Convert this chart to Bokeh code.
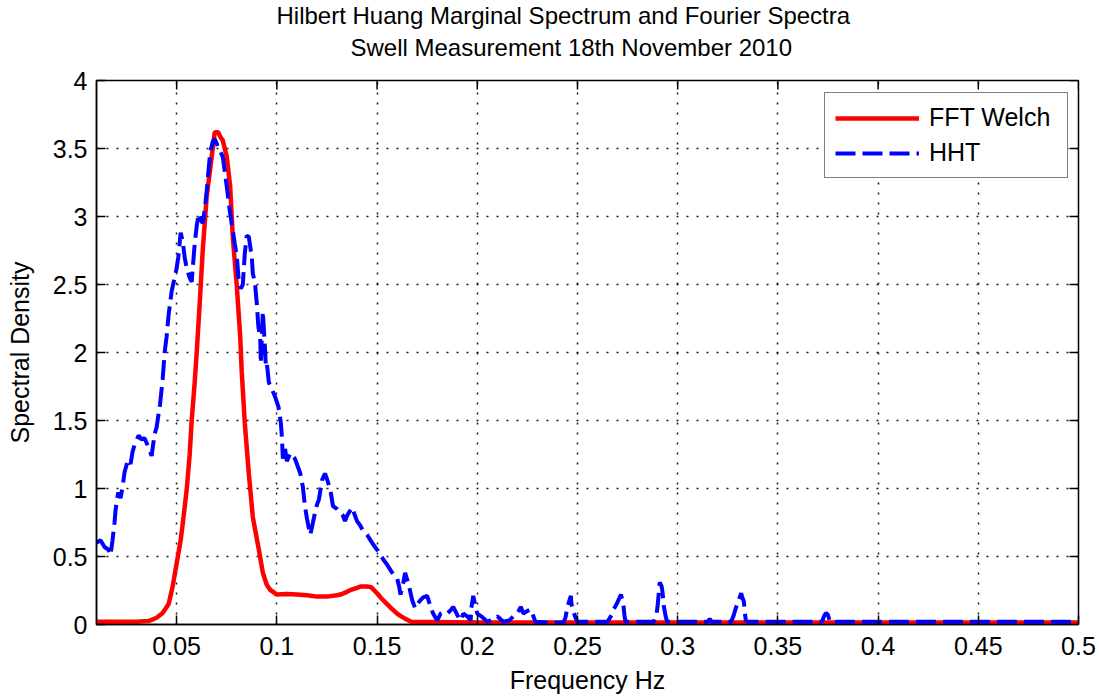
import math
from bokeh.plotting import figure
from bokeh.models import Range1d, FixedTicker, Legend, LegendItem, Title
from bokeh.embed import file_html
from bokeh.resources import INLINE

# ---- data ----
fft_freq = [0.010, 0.020, 0.030, 0.036, 0.040, 0.043, 0.046, 0.048, 0.050, 0.052,
            0.0535, 0.055, 0.0565, 0.0575, 0.059, 0.060, 0.0617, 0.063, 0.065, 0.0675,
            0.069, 0.0707, 0.072, 0.073, 0.075, 0.0767, 0.078, 0.080, 0.0817, 0.0825,
            0.084, 0.086, 0.088, 0.091, 0.093, 0.095, 0.0967, 0.100, 0.105, 0.110,
            0.115, 0.120, 0.125, 0.130, 0.1317, 0.135, 0.137, 0.140, 0.142, 0.145,
            0.147, 0.150, 0.152, 0.155, 0.157, 0.160, 0.162, 0.165, 0.167, 0.200,
            0.300, 0.400, 0.500]
fft_welch = [0.02, 0.02, 0.02, 0.025, 0.05, 0.085, 0.15, 0.28, 0.45, 0.62,
             0.80, 0.99, 1.25, 1.50, 1.78, 2.00, 2.41, 2.75, 3.15, 3.44,
             3.62, 3.62, 3.58, 3.56, 3.44, 3.22, 2.85, 2.49, 2.12, 1.85,
             1.48, 1.11, 0.79, 0.55, 0.38, 0.29, 0.255, 0.22, 0.225, 0.22,
             0.215, 0.205, 0.205, 0.215, 0.22, 0.24, 0.255, 0.27, 0.28, 0.28,
             0.275, 0.23, 0.195, 0.15, 0.12, 0.08, 0.06, 0.035, 0.02, 0.015,
             0.015, 0.015, 0.015]

hht_freq = [0.010, 0.012, 0.014, 0.016, 0.017, 0.018, 0.019, 0.0195, 0.0208, 0.022,
            0.023, 0.024, 0.0257, 0.027, 0.028, 0.029, 0.031, 0.0325, 0.034, 0.036,
            0.0375, 0.039, 0.040, 0.041, 0.0417, 0.043, 0.044, 0.045, 0.046, 0.0475,
            0.049, 0.050, 0.0508, 0.052, 0.053, 0.054, 0.055, 0.0565, 0.0575, 0.059,
            0.060, 0.061, 0.062, 0.063, 0.064, 0.065, 0.0667, 0.068, 0.069, 0.071,
            0.073, 0.075, 0.0767, 0.078, 0.079, 0.080, 0.081, 0.082, 0.083, 0.084,
            0.085, 0.086, 0.087, 0.0875, 0.088, 0.089, 0.090, 0.0907, 0.0917, 0.092,
            0.093, 0.094, 0.0945, 0.095, 0.096, 0.0975, 0.099, 0.1008, 0.102, 0.1025,
            0.103, 0.104, 0.105, 0.1067, 0.108, 0.109, 0.110, 0.1117, 0.113, 0.114,
            0.115, 0.1158, 0.1167, 0.118, 0.119, 0.120, 0.121, 0.1225, 0.124, 0.125,
            0.1267, 0.128, 0.130, 0.1317, 0.133, 0.134, 0.135, 0.1375, 0.139, 0.140,
            0.1415, 0.143, 0.145, 0.1467, 0.148, 0.150, 0.1515, 0.153, 0.155, 0.1567,
            0.158, 0.160, 0.161, 0.1617, 0.163, 0.164, 0.165, 0.166, 0.1675, 0.169,
            0.170, 0.1717, 0.173, 0.175, 0.1767, 0.178, 0.180, 0.1817, 0.183, 0.185,
            0.187, 0.188, 0.190, 0.1917, 0.193, 0.195, 0.1967, 0.197, 0.198, 0.199,
            0.200, 0.202, 0.205, 0.208, 0.210, 0.213, 0.216, 0.218, 0.220, 0.2217,
            0.223, 0.225, 0.2267, 0.228, 0.229, 0.235, 0.243, 0.244, 0.245, 0.2467,
            0.247, 0.248, 0.249, 0.250, 0.265, 0.267, 0.268, 0.2695, 0.2708, 0.2717,
            0.2725, 0.273, 0.2735, 0.274, 0.288, 0.2895, 0.290, 0.2905, 0.291, 0.292,
            0.2925, 0.293, 0.294, 0.2947, 0.315, 0.316, 0.317, 0.3267, 0.328, 0.329,
            0.330, 0.3317, 0.332, 0.333, 0.3335, 0.334, 0.335, 0.372, 0.373, 0.374,
            0.375, 0.376, 0.500]
hht = [0.60, 0.62, 0.57, 0.55, 0.51, 0.62, 0.75, 0.84, 0.97, 0.93,
       1.01, 1.12, 1.21, 1.18, 1.27, 1.32, 1.39, 1.36, 1.37, 1.30,
       1.24, 1.40, 1.45, 1.55, 1.62, 1.80, 2.00, 2.12, 2.28, 2.45,
       2.55, 2.62, 2.70, 2.88, 2.82, 2.70, 2.62, 2.55, 2.52, 2.80,
       2.93, 3.02, 2.98, 2.95, 3.05, 3.19, 3.47, 3.55, 3.57, 3.50,
       3.44, 3.22, 3.02, 2.90, 2.80, 2.71, 2.52, 2.47, 2.50, 2.73,
       2.86, 2.85, 2.75, 2.70, 2.58, 2.52, 2.36, 2.20, 2.10, 1.92,
       2.30, 2.05, 1.90, 1.92, 1.78, 1.73, 1.68, 1.60, 1.48, 1.38,
       1.22, 1.30, 1.20, 1.26, 1.24, 1.22, 1.18, 1.11, 1.01, 0.87,
       0.78, 0.72, 0.66, 0.75, 0.82, 0.88, 0.92, 1.06, 1.11, 1.07,
       0.99, 0.87, 0.85, 0.82, 0.80, 0.76, 0.80, 0.86, 0.80, 0.76,
       0.73, 0.69, 0.66, 0.62, 0.59, 0.55, 0.52, 0.48, 0.44, 0.40,
       0.37, 0.34, 0.28, 0.22, 0.30, 0.38, 0.33, 0.28, 0.18, 0.12,
       0.15, 0.18, 0.20, 0.21, 0.13, 0.08, 0.03, 0.08, 0.09, 0.08,
       0.11, 0.13, 0.07, 0.03, 0.08, 0.06, 0.03, 0.12, 0.21, 0.14,
       0.08, 0.06, 0.02, 0.04, 0.06, 0.02, 0.03, 0.06, 0.08, 0.13,
       0.08, 0.10, 0.11, 0.06, 0.02, 0.015, 0.015, 0.05, 0.13, 0.21,
       0.15, 0.095, 0.05, 0.02, 0.02, 0.07, 0.11, 0.15, 0.19, 0.22,
       0.17, 0.13, 0.06, 0.02, 0.02, 0.08, 0.14, 0.22, 0.31, 0.28,
       0.23, 0.14, 0.06, 0.02, 0.02, 0.04, 0.02, 0.02, 0.07, 0.12,
       0.16, 0.23, 0.21, 0.17, 0.09, 0.03, 0.02, 0.02, 0.06, 0.085,
       0.07, 0.02, 0.02]

x_ticks = [0.05, 0.10, 0.15, 0.20, 0.25, 0.30, 0.35, 0.40, 0.45, 0.50]
x_tick_labels = ["0.05", "0.1", "0.15", "0.2", "0.25", "0.3", "0.35", "0.4", "0.45", "0.5"]
y_ticks = [0, 0.5, 1, 1.5, 2, 2.5, 3, 3.5, 4]
y_tick_labels = ["0", "0.5", "1", "1.5", "2", "2.5", "3", "3.5", "4"]
x_limits = (0.01, 0.5)
y_limits = (0, 4)

title_line1 = "Hilbert Huang Marginal Spectrum and Fourier Spectra"
title_line2 = "Swell Measurement 18th November 2010"
x_label = "Frequency Hz"
y_label = "Spectral Density"
series_names = ["FFT Welch", "HHT"]

FONT = "Liberation Sans"

p = figure(width=1099, height=696, output_backend="svg", toolbar_location=None,
           x_range=Range1d(*x_limits), y_range=Range1d(*y_limits),
           min_border_left=96, min_border_right=21, min_border_top=80, min_border_bottom=72)
p.background_fill_color = "white"
p.border_fill_color = "white"
p.outline_line_color = "black"
p.outline_line_width = 1.5

# title: two lines, each its own Title (line 1 outermost)
p.title.text = title_line1
p.title.align = "left"
p.title.offset = 180
p.title.text_font = FONT
p.title.text_font_size = "24px"
p.title.text_font_style = "normal"
p.title.text_color = "black"
p.title.standoff = -32
sub = Title(text=title_line2, align="left", offset=254, text_font=FONT, text_font_size="24px",
            text_font_style="normal", text_color="black", standoff=39)
p.add_layout(sub, "above")

xt = FixedTicker(ticks=x_ticks)
yt = FixedTicker(ticks=y_ticks)

for ax, ticks, labels, tk in ((p.xaxis[0], x_ticks, x_tick_labels, xt),
                              (p.yaxis[0], y_ticks, y_tick_labels, yt)):
    ax.ticker = tk
    ax.major_label_overrides = {t: l for t, l in zip(ticks, labels)}
    ax.major_tick_in = 9
    ax.major_tick_out = 0
    ax.minor_tick_line_color = None
    ax.axis_line_width = 1.5
    ax.major_tick_line_width = 1.5
    ax.major_label_text_font = FONT
    ax.major_label_text_font_size = "25px"
    ax.major_label_text_color = "black"
    ax.axis_label_text_font = FONT
    ax.axis_label_text_font_size = "25px"
    ax.axis_label_text_font_style = "normal"
    ax.axis_label_text_color = "black"

p.xaxis.axis_label = x_label
p.yaxis.axis_label = y_label
p.xaxis.major_label_standoff = 12
p.yaxis.major_label_standoff = 9
p.xaxis.axis_label_standoff = 8
p.yaxis.axis_label_standoff = 16

for g, t in ((p.xgrid[0], xt), (p.ygrid[0], yt)):
    g.ticker = t
    g.grid_line_color = "black"
    g.grid_line_width = 1.5
    g.grid_line_dash = "2 8"
    g.grid_line_alpha = 0.9

# inward ticks on the top and right frame edges (half of each dash is clipped away)
p.scatter(x=x_ticks, y=[y_limits[1]] * len(x_ticks), marker="dash", size=18,
          angle=math.pi / 2, line_color="black", line_width=1.5)
p.scatter(x=[x_limits[1]] * len(y_ticks), y=y_ticks, marker="dash", size=18,
          line_color="black", line_width=1.5)

r_fft = p.line(fft_freq, fft_welch, line_color="#ff0000", line_width=4.5)
r_hht = p.line(hht_freq, hht, line_color="#0000ff", line_width=4, line_dash="20 7")

legend = Legend(items=[LegendItem(label=series_names[0], renderers=[r_fft]),
                       LegendItem(label=series_names[1], renderers=[r_hht])],
                location=(728, 446))
legend.label_text_font = FONT
legend.label_text_font_size = "25px"
legend.label_text_color = "black"
legend.border_line_color = "black"
legend.border_line_width = 1.5
legend.background_fill_alpha = 1.0
legend.padding = 10
legend.spacing = 6
legend.glyph_width = 84
legend.glyph_height = 28
legend.label_height = 28
legend.label_standoff = 10
legend.label_width = 128
legend.margin = 0
p.add_layout(legend)

open("out.html", "w").write(file_html(p, INLINE))
